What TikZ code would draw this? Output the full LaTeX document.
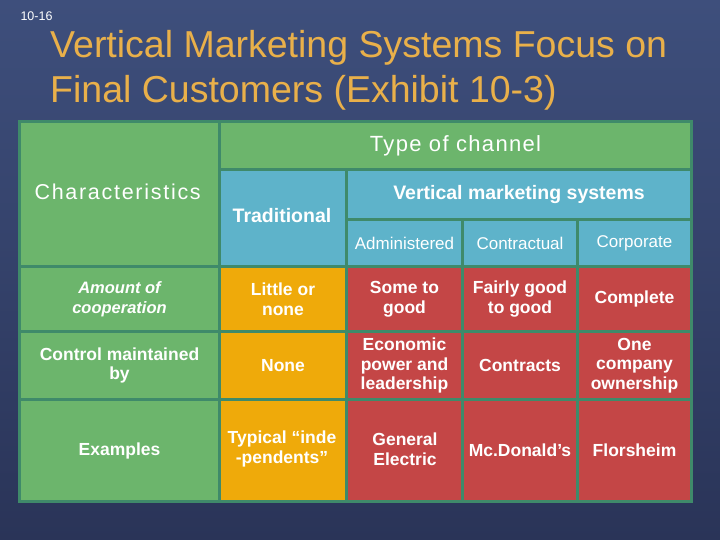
\documentclass[tikz,border=0pt]{standalone}
\usepackage{fontspec}
\setmainfont{Liberation Sans}
\begin{document}
\begin{tikzpicture}[x=1pt,y=-1pt,
 cell/.style={draw=gbord,line width=3pt,text=white,align=center,inner sep=0pt},
 g/.style={cell,fill=cgreen},
 b/.style={cell,fill=cblue},
 o/.style={cell,fill=corange},
 r/.style={cell,fill=cred},
 bf/.style={font=\bfseries\fontsize{17.5}{19.5}\selectfont}]
\definecolor{cgreen}{HTML}{6CB56C}
\definecolor{cblue}{HTML}{5EB3CA}
\definecolor{corange}{HTML}{EFAA0A}
\definecolor{cred}{HTML}{C44646}
\definecolor{gbord}{HTML}{3F8A6A}
\definecolor{bgtop}{HTML}{3E4F7C}
\definecolor{bgbot}{HTML}{2A3458}
\definecolor{ctitle}{HTML}{E9B04A}
\useasboundingbox (0,0) rectangle (720,540);
\shade[top color=bgtop,bottom color=bgbot] (0,0) rectangle (720,540);
\node[text=white,font=\fontsize{12.5}{13}\selectfont,anchor=west] (pg) at (17,16) {10-16};
\node[text=ctitle,font=\fontsize{37.5}{45}\selectfont,anchor=north west,align=left,inner sep=0pt] (ttl) at (50,30) {Vertical Marketing Systems Focus on\\Final Customers (Exhibit 10-3)};
% header
\node[g,minimum width=200,minimum height=145,anchor=north west] (ch) at (18,120) {};
\node[text=white,font=\fontsize{21.5}{24}\selectfont,anchor=west] (cht) at (31,192) {\addfontfeature{LetterSpace=8}Characteristics};
\node[g,minimum width=472,minimum height=48,anchor=north west,font=\fontsize{22}{26}\selectfont] (type) at (218,120) {\addfontfeature{LetterSpace=6}Type of channel};
\node[b,minimum width=127,minimum height=97,anchor=north west] (trad) at (218,168) {};
\node[text=white,font=\bfseries\fontsize{19.5}{22}\selectfont] (tradt) at (282,216) {Traditional};
\node[b,minimum width=345,minimum height=50,anchor=north west,font=\bfseries\fontsize{19.5}{22}\selectfont] (vms) at (345,168) {Vertical marketing systems};
\node[b,minimum width=116,minimum height=47,anchor=north west,font=\fontsize{17}{19}\selectfont] (adm) at (345,218) {Administered};
\node[b,minimum width=115,minimum height=47,anchor=north west,font=\fontsize{17}{19}\selectfont] (con) at (461,218) {Contractual};
\node[b,minimum width=114,minimum height=47,anchor=north west,font=\fontsize{17}{19}\selectfont] (cor) at (576,218) {Corporate};
% row 1
\node[g,minimum width=200,minimum height=65,anchor=north west,font=\bfseries\itshape\fontsize{16.5}{19.5}\selectfont] (r1) at (18,265) {Amount of\\cooperation};
\node[o,bf,minimum width=127,minimum height=65,anchor=north west] (r1a) at (218,265) {Little or\\none};
\node[r,bf,minimum width=116,minimum height=65,anchor=north west] (r1b) at (345,265) {Some to\\good};
\node[r,bf,minimum width=115,minimum height=65,anchor=north west] (r1c) at (461,265) {Fairly good\\to good};
\node[r,bf,minimum width=114,minimum height=65,anchor=north west] (r1d) at (576,265) {Complete};
% row 2
\node[g,bf,minimum width=200,minimum height=68,anchor=north west] (r2) at (18,330) {Control maintained\\by};
\node[o,bf,minimum width=127,minimum height=68,anchor=north west] (r2a) at (218,330) {None};
\node[r,bf,minimum width=116,minimum height=68,anchor=north west] (r2b) at (345,330) {Economic\\power and\\leadership};
\node[r,bf,minimum width=115,minimum height=68,anchor=north west] (r2c) at (461,330) {Contracts};
\node[r,bf,minimum width=114,minimum height=68,anchor=north west] (r2d) at (576,330) {One\\company\\ownership};
% row 3
\node[g,bf,minimum width=200,minimum height=102,anchor=north west] (r3) at (18,398) {Examples};
\node[o,bf,minimum width=127,minimum height=102,anchor=north west] (r3a) at (218,398) {};
\node[text=white,bf,align=center] (r3at) at (282,449) {Typical “inde\\-pendents”};
\node[r,bf,minimum width=116,minimum height=102,anchor=north west] (r3b) at (345,398) {};
\node[text=white,bf,align=center] (r3bt) at (405,449) {General\\Electric};
\node[r,bf,minimum width=115,minimum height=102,anchor=north west] (r3c) at (461,398) {Mc.Donald’s};
\node[r,bf,minimum width=114,minimum height=102,anchor=north west] (r3d) at (576,398) {Florsheim};
\end{tikzpicture}
\end{document}
